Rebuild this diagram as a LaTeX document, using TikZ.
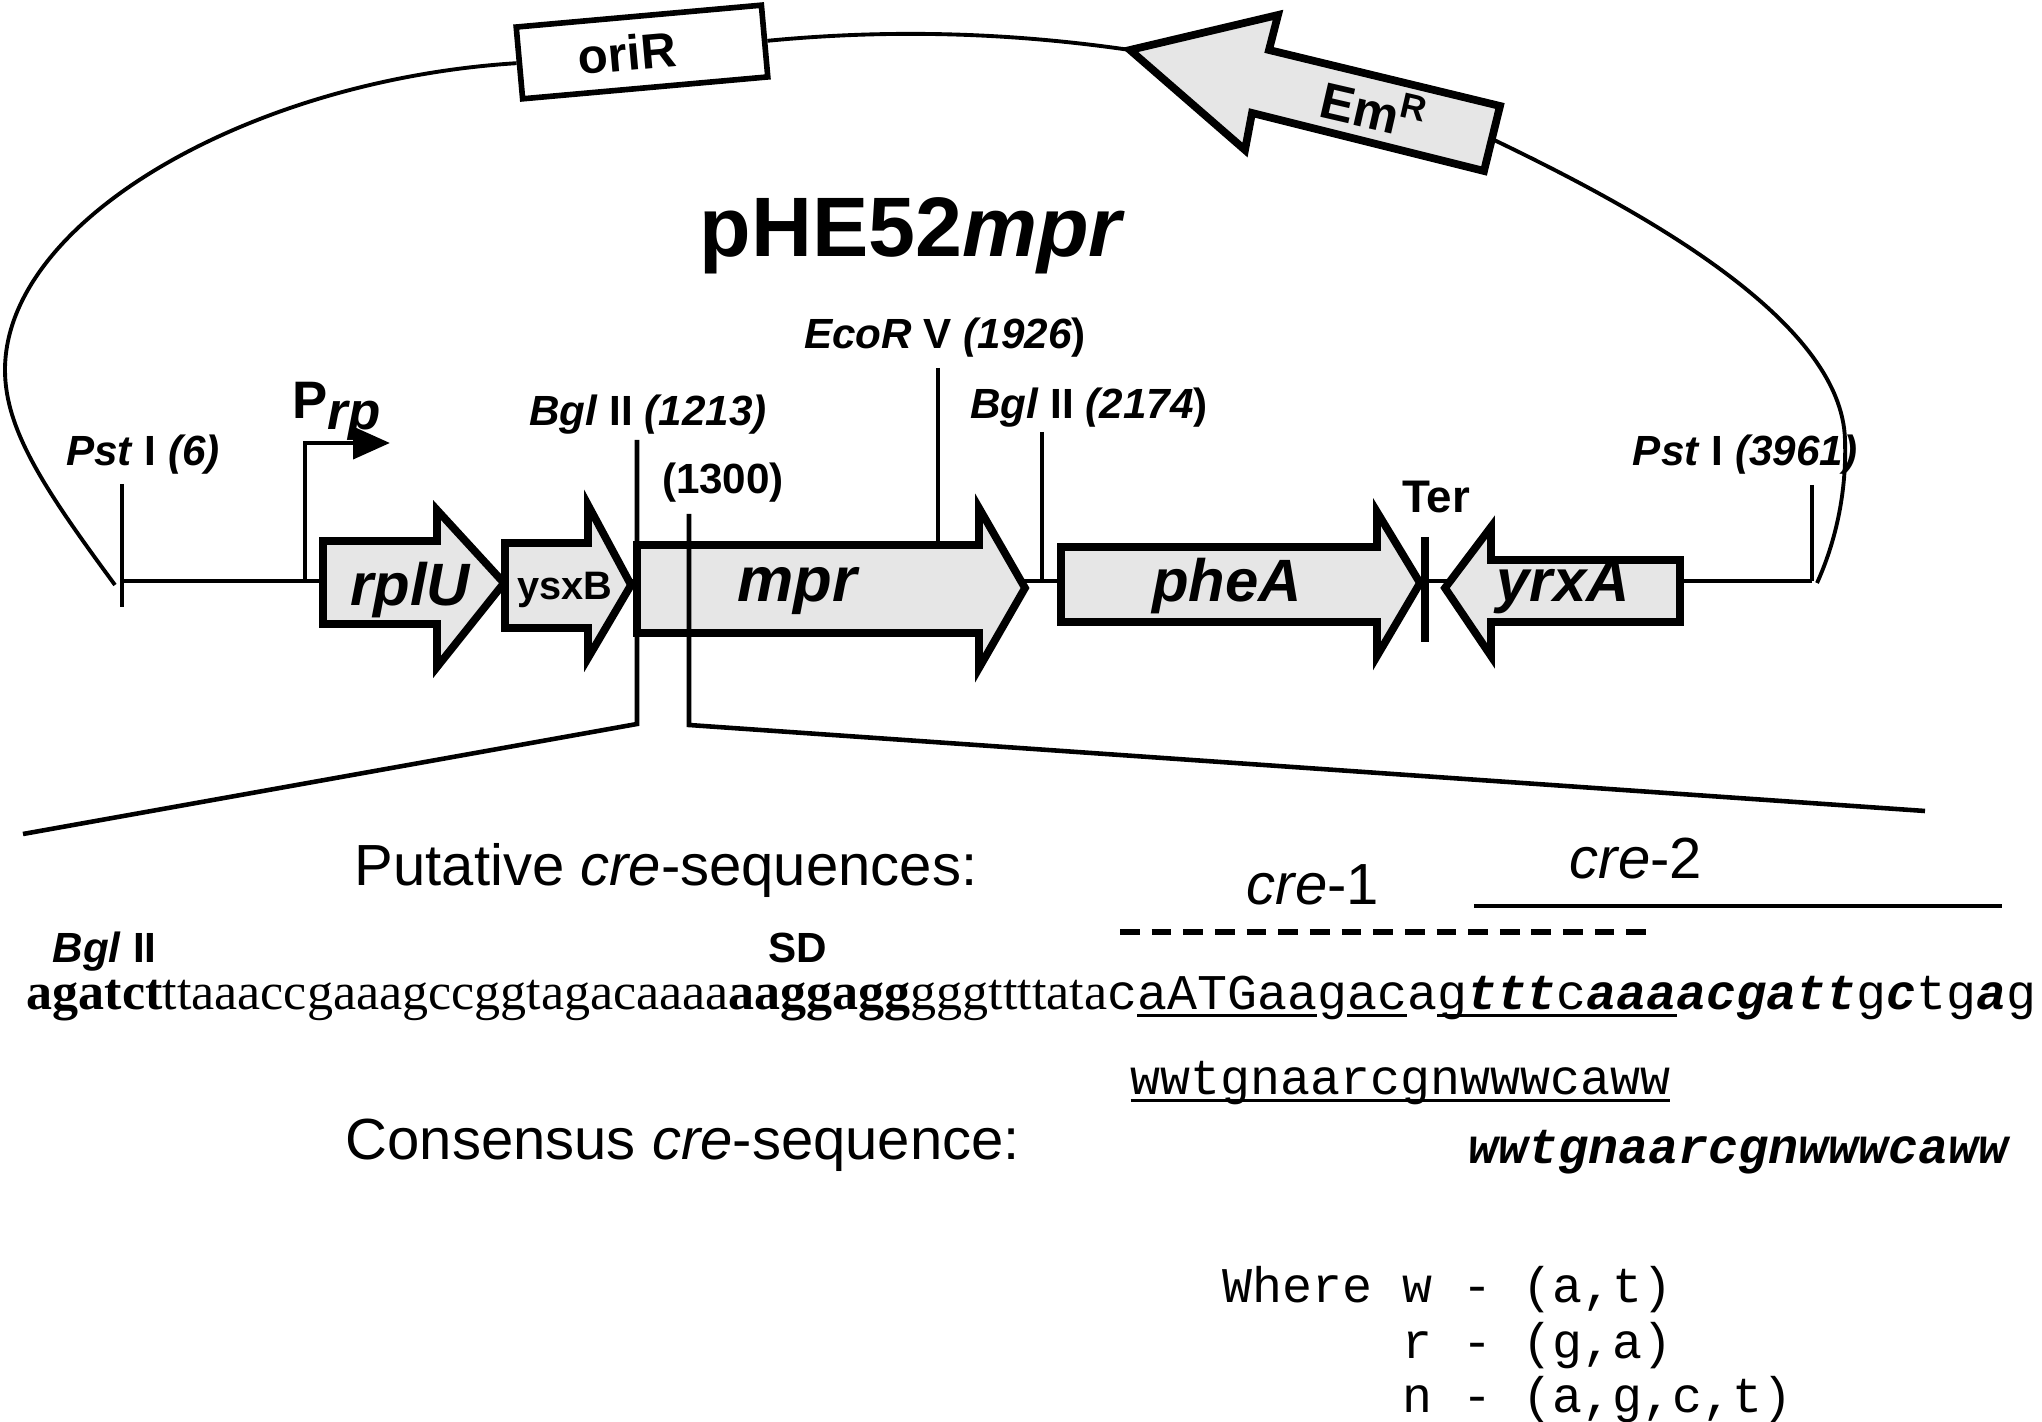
\documentclass[tikz,border=0pt]{standalone}
\usepackage{fontspec}
\setmainfont{Liberation Sans}
\setmonofont{Liberation Mono}
\newfontfamily\seqserif{Liberation Serif}
\usepackage{xcolor}
\definecolor{cGene}{HTML}{E6E6E6}
\usetikzlibrary{positioning, arrows.meta}

\newcommand{\fsz}[1]{\fontsize{#1}{#1}\selectfont}
% unterstrichene bzw. fett-kursive Basen
\newcommand{\sequl}[1]{\setbox0\hbox{#1}\rlap{\rule[-2.2pt]{\wd0}{0.8pt}}\box0}
\newcommand{\seqbi}[1]{{\bfseries\itshape #1}}

\begin{document}
\begin{tikzpicture}[x=0.01cm, y=-0.01cm,
    gene/.style    = {draw, line width=2.2pt, fill=cGene, line join=miter},
    site/.style    = {line width=1pt},
    arc/.style     = {line width=1.1pt},
    zoomline/.style= {line width=1.3pt},
    lbl/.style     = {font=\fsz{12}\bfseries, inner sep=0pt, anchor=base},
    genelbl/.style = {font=\fsz{17}\bfseries\itshape, inner sep=0pt, anchor=base},
    caption/.style = {font=\fsz{16.5}, inner sep=0pt, anchor=base west},
    mono/.style    = {font=\fsz{14.2}\ttfamily, inner sep=0pt, anchor=base west}
]
\useasboundingbox (0,0) rectangle (2042,1422);

% --- Plasmidring: oriR, EmR und Boegen ----------------------------------
\node[draw, line width=1.6pt, minimum width=2.46cm, minimum height=0.72cm,
      rotate=5.1] (oriR) at (642,52) {};
\node[font=\fsz{14}\bfseries, rotate=5.1, inner sep=0pt] (oriRtxt) at (627,53) {oriR};

\coordinate (emTip)  at (1130,50);
\coordinate (emTail) at (1492,139);
\draw[gene] (emTip) -- (1278,15) -- (1269,50) -- (1500,106)
  -- (1484,171) -- (1252,113) -- (1245,150) -- cycle;
\node[font=\fsz{14.5}\bfseries, rotate=-13] (emR) at (1374,108) {Em\textsuperscript{R}};

\coordinate (arcL) at (115,585);
\coordinate (arcR) at (1817,583);
\draw[arc] (arcL) .. controls (45,490) and (5,430) .. (5,370)
  .. controls (5,220) and (250,80) .. (oriR.west);
\draw[arc] (oriR.east) .. controls (900,28) and (1020,34) .. (emTip);
\draw[arc] (emTail) .. controls (1640,210) and (1842,320) .. (1845,440)
  .. controls (1847,500) and (1832,550) .. (arcR);

\node[font=\fsz{24}\bfseries, anchor=base west, inner sep=0pt] (title)
  at (699,257) {pHE52\textit{mpr}};

% --- Rueckgrat und Gene ---------------------------------------------------
\coordinate (pst6)    at (122,581);
\coordinate (pst3961) at (1812,581);
\draw[line width=1.3pt] (pst6) -- (pst3961);

\draw[gene] (323,541) -- (437,541) -- (437,510) -- (504,583)
  -- (437,667) -- (437,624) -- (323,624) -- cycle;
\draw[gene] (505,543) -- (588,543) -- (588,505) -- (631,585)
  -- (588,658) -- (588,628) -- (505,628) -- cycle;
\draw[gene] (637,545) -- (979,545) -- (979,508) -- (1025,588)
  -- (979,668) -- (979,633) -- (637,633) -- cycle;
\draw[gene] (1061,547) -- (1377,547) -- (1377,512) -- (1420,583)
  -- (1377,656) -- (1377,622) -- (1061,622) -- cycle;
\draw[gene] (1680,560) -- (1491,560) -- (1491,527) -- (1445,588)
  -- (1491,656) -- (1491,622) -- (1680,622) -- cycle;

\node[genelbl] (rplU) at (410,606) {rplU};
\node[font=\fsz{11.3}\bfseries, inner sep=0pt, anchor=base] (ysxB) at (565,600) {ysxB};
\node[genelbl, font=\fsz{18}\bfseries\itshape] (mpr) at (797,602) {mpr};
\node[genelbl] (pheA) at (1227,602) {pheA};
\node[genelbl] (yrxA) at (1563,602) {yrxA};

% Terminator
\coordinate (terTop) at (1425,537);
\coordinate (terBot) at (1425,642);
\draw[line width=2.4pt] (terTop) -- (terBot);
\node[font=\fsz{13}\bfseries, inner sep=0pt, anchor=base] (lTer) at (1436,513) {Ter};

% Promotor
\coordinate (prpBase) at (305,581);
\coordinate (prpTip)  at (390,443);
\draw[line width=1.4pt, -{Triangle[length=10.5pt, width=9pt]}] (prpBase) |- (prpTip);
\node[font=\fsz{15}\bfseries, anchor=base west, inner sep=0pt] (lPrp)
  at (292,419) {P\raisebox{-3pt}{\textit{rp}}};

% --- Schnittstellen --------------------------------------------------------
\node[lbl] (lPst6)  at (143,466)  {\textit{Pst} I \textit{(6)}};
\node[lbl] (lBgl1)  at (648,426)  {\textit{Bgl} II \textit{(1213)}};
\node[lbl] (l1300)  at (723,494)  {(1300)};
\node[lbl] (lEco)   at (945,349)  {\textit{EcoR} V \textit{(1926})};
\node[lbl] (lBgl2)  at (1089,419) {\textit{Bgl} II \textit{(2174})};
\node[lbl] (lPst2)  at (1745,466) {\textit{Pst} I \textit{(3961)}};

\coordinate (pst6Top)  at (122,484);
\coordinate (pst6Bot)  at (122,607);
\coordinate (bgl1Top)  at (637,440);
\coordinate (bgl1Bot)  at (637,724);
\coordinate (s1300Top) at (689,514);
\coordinate (s1300Bot) at (689,725);
\coordinate (ecoTop)   at (938,368);
\coordinate (ecoBot)   at (938,545);
\coordinate (bgl2Top)  at (1042,432);
\coordinate (bgl2Bot)  at (1042,581);
\coordinate (pst2Top)  at (1812,485);
\coordinate (zoomL)    at (23,834);
\coordinate (zoomR)    at (1925,811);

\draw[site] (pst6Top) -- (pst6Bot);
\draw[site] (ecoTop) -- (ecoBot);
\draw[site] (bgl2Top) -- (bgl2Bot);
\draw[site] (pst2Top) -- (pst3961);
\draw[zoomline] (bgl1Top) -- (bgl1Bot) -- (zoomL);
\draw[zoomline] (s1300Top) -- (s1300Bot) -- (zoomR);

% --- Ausschnitt: Sequenz ---------------------------------------------------
\node[caption] (putative) at (354,886) {Putative \textit{cre}-sequences:};
\node[caption] (cre1) at (1246,905) {\textit{cre}-1};
\node[caption] (cre2) at (1569,879) {\textit{cre}-2};

\coordinate (cre2a) at (1474,906);
\coordinate (cre2b) at (2002,906);
\coordinate (cre1a) at (1120,932);
\coordinate (cre1b) at (1657,932);
\draw[line width=1.2pt] (cre2a) -- (cre2b);
\draw[line width=1.5pt, dash pattern=on 5.6pt off 3.4pt] (cre1a) -- (cre1b);

\node[lbl, anchor=base west] (lBglSeq) at (52,962) {\textit{Bgl} II};
\node[lbl, anchor=base west] (lSD) at (768,962) {SD};

\node[inner sep=0pt, anchor=base west] (seq) at (26,1009)
  {{\seqserif\fsz{14.8}\textbf{agatct}ttaaaccgaaagccggtagacaaaa\textbf{aaggagg}gggttttata}%
   {\ttfamily\fsz{14.2}c\sequl{aATGaa}g\sequl{ac}a\sequl{g\seqbi{ttt}c\seqbi{aaa}}%
   \seqbi{acgatt}g\seqbi{c}tg\seqbi{a}g}};

\node[mono] (consU) at (1130,1094) {\sequl{wwtgnaarcgnwwwcaww}};
\node[caption] (consensus) at (345,1159) {Consensus \textit{cre}-sequence:};
\node[mono] (consB) at (1468,1163) {\seqbi{wwtgnaarcgnwwwcaww}};

\node[mono] (whereW) at (1222,1302) {Where w - (a,t)};
\node[mono] (whereR) at (1222,1358) {\hphantom{Where }r - (g,a)};
\node[mono] (whereN) at (1222,1412) {\hphantom{Where }n - (a,g,c,t)};
\end{tikzpicture}
\end{document}
